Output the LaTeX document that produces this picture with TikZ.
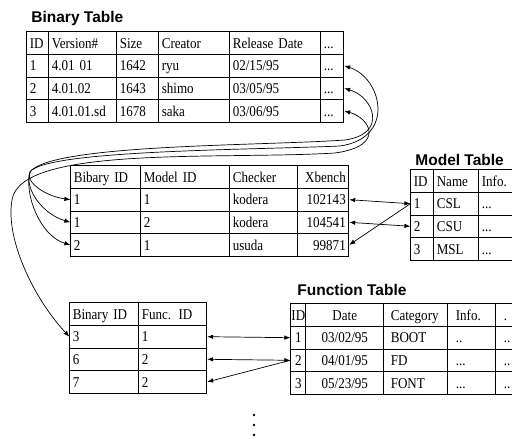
\documentclass[tikz,border=0pt]{standalone}
\usepackage{fontspec}
\setmainfont{Liberation Serif}
\newfontfamily\cellfont{Liberation Serif}[FakeStretch=0.87, WordSpace=0.75]
\newfontfamily\titlefont{Liberation Sans}
\usetikzlibrary{matrix,arrows.meta}

\tikzset{
  table/.style={matrix of nodes, inner sep=0pt, column sep=-0.8pt, row sep=-0.8pt,
    nodes={draw, inner xsep=3pt, inner ysep=0pt, minimum height=22.6pt,
      text height=12.5pt, text depth=2pt, align=left,
      font=\cellfont\fontsize{15}{17}\selectfont}},
  cw/.style={nodes={text width=#1}},
  title/.style={font=\titlefont\bfseries\fontsize{15.5}{18}\selectfont, anchor=west, inner sep=0pt},
  link/.style={line width=0.7pt, >={Latex[length=6pt,width=4.5pt]}}
}

\begin{document}
\begin{tikzpicture}[x=1pt, y=-1pt, line width=0.8pt]
  \clip (0,0) rectangle (512,439);

  % Binary Table
  \node[title] (bin-title) at (31,18) {Binary Table};
  \matrix (bin) [table, anchor=north west,
    column 1/.style={cw=16pt}, column 2/.style={cw=62pt}, column 3/.style={cw=36pt},
    column 4/.style={cw=65pt}, column 5/.style={cw=85pt}, column 6/.style={cw=17pt}] at (26,31) {
    ID & Version\# & Size & Creator & Release Date & ... \\
    1 & 4.01 01 & 1642 & ryu & 02/15/95 & ... \\
    2 & 4.01.02 & 1643 & shimo & 03/05/95 & ... \\
    3 & 4.01.01.sd & 1678 & saka & 03/06/95 & ... \\
  };

  % Checker table
  \matrix (chk) [table, anchor=north west,
    column 1/.style={cw=64pt}, column 2/.style={cw=83pt}, column 3/.style={cw=62pt},
    column 4/.style={nodes={text width=45pt, align=right}}] at (70,165) {
    Bibary ID & Model ID & Checker & Xbench \\
    1 & 1 & kodera & 102143 \\
    1 & 2 & kodera & 104541 \\
    2 & 1 & usuda & 99871 \\
  };

  % Model Table
  \node[title] (mod-title) at (415,160) {Model Table};
  \matrix (mod) [table, anchor=north west,
    column 1/.style={cw=17pt}, column 2/.style={cw=39pt}, column 3/.style={cw=39pt}] at (410,169) {
    ID & Name & Info. \\
    1 & CSL & ... \\
    2 & CSU & ... \\
    3 & MSL & ... \\
  };

  % Binary / function table
  \matrix (fb) [table, anchor=north west,
    column 1/.style={cw=63pt}, column 2/.style={cw=62pt}] at (69,302) {
    Binary ID & Func. ID \\
    3 & 1 \\
    6 & 2 \\
    7 & 2 \\
  };

  % Function Table
  \node[title] (fun-title) at (297,290) {Function Table};
  \matrix (fun) [table, anchor=north west,
    column 1/.style={nodes={inner xsep=0.5pt, text width=14pt, align=center}},
    column 2/.style={nodes={text width=72pt, align=center}},
    column 3/.style={nodes={inner xsep=7pt, text width=50pt}},
    column 4/.style={nodes={inner xsep=8pt, text width=32pt}},
    column 5/.style={nodes={inner xsep=8pt, text width=32pt}}] at (290,303) {
    ID & Date & Category & Info. & . \\
    1 & 03/02/95 & BOOT & .. & .. \\
    2 & 04/01/95 & FD & ... & .. \\
    3 & 05/23/95 & FONT & ... & .. \\
  };

  % Binary -> checker links
  \coordinate (fan) at (30,172);
  \draw[link, <-] (bin-2-6.east) .. controls (382,78) and (396,138) .. (340,146)
    .. controls (250,150) and (45,150) .. (fan);
  \draw[link, <-] (bin-3-6.east) .. controls (374,97) and (388,134) .. (345,140)
    .. controls (260,146) and (50,144) .. (fan);
  \draw[link, ->] (fan) .. controls (25,182) and (45,196) .. (chk-2-1.west);
  \draw[link, ->] (fan) .. controls (24,188) and (42,214) .. (chk-3-1.west);
  \draw[link, ->] (fan) .. controls (24,194) and (40,236) .. (chk-4-1.west);

  % Binary -> binary/function link
  \draw[link, <->] (bin-4-6.east) .. controls (370,118) and (386,146) .. (335,153)
    .. controls (220,160) and (20,145) .. (12,200)
    .. controls (5,240) and (35,300) .. (fb-2-1.west);

  % Checker <-> model links
  \draw[link, <->] (chk-2-4.east) -- (mod-2-1.west);
  \draw[link, <->] (chk-3-4.east) -- (mod-3-1.west);
  \draw[link, ->] (mod-2-1.west) -- (chk-4-4.east);

  % Function <-> binary/function links
  \draw[link, <->] (fb-2-2.east) -- (fun-2-1.west);
  \draw[link, <->] (fb-3-2.east) -- (fun-3-1.west);
  \draw[link, ->] (fun-3-1.west) -- (fb-4-2.east);

  % More tables
  \foreach \y in {415,425,435}
    \fill (254,\y) circle (1.3);
\end{tikzpicture}
\end{document}
